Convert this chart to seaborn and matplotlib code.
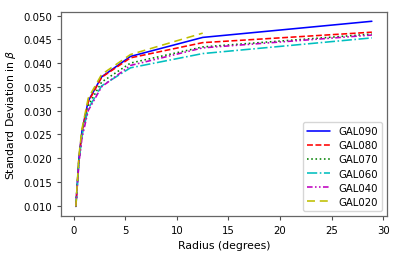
import matplotlib
matplotlib.use("Agg")
import matplotlib.pyplot as plt
import numpy as np
import pandas as pd
import seaborn as sns

# radius of each annulus (degrees)
radius = [0.2, 0.5, 0.8, 1.4, 2.7, 5.5, 12.5, 28.9]

gal090 = [0.0098, 0.0200, 0.0258, 0.0320, 0.0371, 0.0414, 0.0454, 0.0488]
gal080 = [0.0098, 0.0198, 0.0256, 0.0318, 0.0370, 0.0411, 0.0443, 0.0465]
gal070 = [0.0098, 0.0195, 0.0250, 0.0310, 0.0360, 0.0400, 0.0434, 0.0461]
gal060 = [0.0098, 0.0193, 0.0248, 0.0304, 0.0352, 0.0390, 0.0420, 0.0453]
gal040 = [0.0098, 0.0190, 0.0243, 0.0300, 0.0350, 0.0395, 0.0432, 0.0459]
gal020 = [0.0098, 0.0205, 0.0262, 0.0326, 0.0376, 0.0418, 0.0463]

labels = ["GAL090", "GAL080", "GAL070", "GAL060", "GAL040", "GAL020"]
series = [gal090, gal080, gal070, gal060, gal040, gal020]
colors = [(0, 0, 1), (1, 0, 0), (0, 0.5, 0), (0, 0.75, 0.75),
          (0.75, 0, 0.75), (0.75, 0.75, 0)]
styles = ["-", "--", ":", "-.", (0, (3.5, 1.5, 1, 1.5, 1, 1.5)), (0, (5, 3))]

sns.set_style("ticks")
plt.rcParams["font.family"] = ["DejaVu Sans"]
plt.rcParams["text.color"] = "black"
plt.rcParams["axes.labelcolor"] = "black"
plt.rcParams["xtick.color"] = "black"
plt.rcParams["ytick.color"] = "black"

fig, ax = plt.subplots(figsize=(4.07, 2.55), dpi=100)
fig.subplots_adjust(left=0.150, right=0.950, top=0.949, bottom=0.150)

for lab, vals, col, ls in zip(labels, series, colors, styles):
    df = pd.DataFrame({"r": radius[:len(vals)], "s": vals})
    sns.lineplot(data=df, x="r", y="s", ax=ax, color=col, linestyle=ls,
                 linewidth=1.15, label=lab)

ax.set_xticks([0, 5, 10, 15, 20, 25, 30])
ax.set_yticks(np.arange(0.010, 0.0501, 0.005))
ax.set_yticklabels(["%.3f" % v for v in np.arange(0.010, 0.0501, 0.005)])
ax.tick_params(labelsize=7.3, length=3, width=0.8, color="0.3")
for sp in ax.spines.values():
    sp.set_color("0.4")
    sp.set_linewidth(0.9)
ax.set_xlabel("Radius (degrees)", fontsize=7.8)
ax.set_ylabel(r"Standard Deviation in $\beta$", fontsize=7.8)
ax.legend(loc="lower right", fontsize=7.3, handlelength=2.2, labelspacing=0.4)

plt.savefig("out.png", dpi=100)
